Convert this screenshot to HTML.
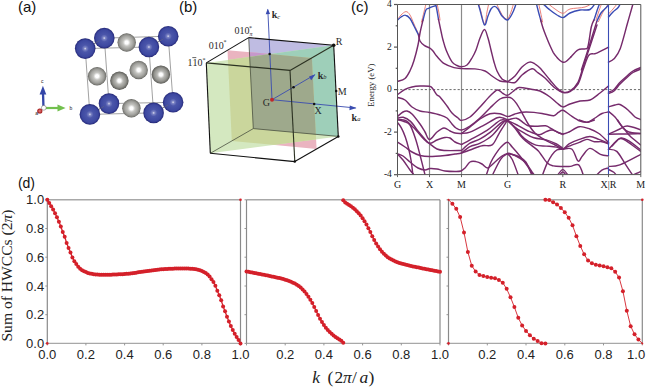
<!DOCTYPE html><html><head><meta charset="utf-8"><style>html,body{margin:0;padding:0;background:#fff;width:646px;height:388px;overflow:hidden}svg{display:block}</style></head><body>
<svg width="646" height="388" viewBox="0 0 646 388">
<defs>
<radialGradient id="gb" cx="0.5" cy="0.5" r="0.5" fx="0.5" fy="0.5"><stop offset="0" stop-color="#e2e2f0"/><stop offset="0.13" stop-color="#7c84c4"/><stop offset="0.35" stop-color="#4b56aa"/><stop offset="0.8" stop-color="#3d48a0"/><stop offset="0.93" stop-color="#2e3488"/><stop offset="1" stop-color="#20246f"/></radialGradient>
<radialGradient id="gg" cx="0.5" cy="0.5" r="0.5" fx="0.5" fy="0.5"><stop offset="0" stop-color="#ffffff"/><stop offset="0.17" stop-color="#fefefe"/><stop offset="0.4" stop-color="#c4c4c0"/><stop offset="0.72" stop-color="#a2a29e"/><stop offset="0.9" stop-color="#84847f"/><stop offset="1" stop-color="#5c5c58"/></radialGradient><radialGradient id="gg2" cx="0.5" cy="0.5" r="0.5" fx="0.5" fy="0.5"><stop offset="0" stop-color="#ffffff"/><stop offset="0.17" stop-color="#fefefe"/><stop offset="0.4" stop-color="#b8b8b4"/><stop offset="0.72" stop-color="#94948f"/><stop offset="0.9" stop-color="#70706b"/><stop offset="1" stop-color="#4c4c48"/></radialGradient>
<radialGradient id="gr" cx="0.5" cy="0.5" r="0.5"><stop offset="0" stop-color="#f08080"/><stop offset="1" stop-color="#9a1010"/></radialGradient>
</defs>
<g font-family='"Liberation Sans", sans-serif' font-size="15" fill="#111">
<text x="18.0" y="11.5">(a)</text>
<text x="178.9" y="11.5">(b)</text>
<text x="351.0" y="11.5">(c)</text>
<text x="17.9" y="187.6" font-size="14">(d)</text>
</g>
<g stroke="#8a8a8a" stroke-width="0.8" fill="none">
<line x1="85.2" y1="48.6" x2="104.3" y2="38.1"/>
<line x1="104.3" y1="38.1" x2="168.2" y2="36.2"/>
<line x1="168.2" y1="36.2" x2="148.9" y2="47.0"/>
<line x1="148.9" y1="47.0" x2="85.2" y2="48.6"/>
<line x1="89.9" y1="114.4" x2="109.0" y2="103.6"/>
<line x1="109.0" y1="103.6" x2="173.1" y2="102.3"/>
<line x1="173.1" y1="102.3" x2="153.6" y2="112.9"/>
<line x1="153.6" y1="112.9" x2="89.9" y2="114.4"/>
<line x1="85.2" y1="48.6" x2="89.9" y2="114.4"/>
<line x1="104.3" y1="38.1" x2="109.0" y2="103.6"/>
<line x1="148.9" y1="47.0" x2="153.6" y2="112.9"/>
<line x1="168.2" y1="36.2" x2="173.1" y2="102.3"/>
</g>
<circle cx="168.2" cy="36.2" r="10.3" fill="url(#gb)"/>
<circle cx="104.3" cy="38.1" r="10.3" fill="url(#gb)"/>
<circle cx="173.1" cy="102.3" r="10.3" fill="url(#gb)"/>
<circle cx="109.0" cy="103.6" r="10.3" fill="url(#gb)"/>
<circle cx="138.7" cy="70.0" r="9.2" fill="url(#gg)"/>
<circle cx="126.7" cy="42.5" r="9.2" fill="url(#gg)"/>
<circle cx="97.1" cy="76.2" r="9.2" fill="url(#gg)"/>
<circle cx="160.9" cy="74.6" r="9.2" fill="url(#gg2)"/>
<circle cx="131.4" cy="108.3" r="9.2" fill="url(#gg)"/>
<circle cx="119.4" cy="80.7" r="9.2" fill="url(#gg2)"/>
<g stroke="#6a6a7a" stroke-width="0.7" fill="none" opacity="0.8">
<line x1="85.2" y1="48.6" x2="99.5" y2="40.7"/>
<line x1="148.9" y1="47.0" x2="163.4" y2="38.9"/>
<line x1="89.9" y1="114.4" x2="104.2" y2="106.3"/>
<line x1="153.6" y1="112.9" x2="168.2" y2="104.9"/>
</g>
<circle cx="85.2" cy="48.6" r="10.3" fill="url(#gb)"/>
<circle cx="148.9" cy="47.0" r="10.3" fill="url(#gb)"/>
<circle cx="89.9" cy="114.4" r="10.3" fill="url(#gb)"/>
<circle cx="153.6" cy="112.9" r="10.3" fill="url(#gb)"/>
<line x1="43.5" y1="108" x2="43.0" y2="93" stroke="#3446a8" stroke-width="2.3"/>
<polygon points="42.9,85.8 39.6,94.5 46.3,94.5" fill="#3446a8"/>
<line x1="43.5" y1="108" x2="58" y2="108" stroke="#72c04e" stroke-width="2.2"/>
<polygon points="65.6,108 57.5,104.6 57.5,111.4" fill="#72c04e"/>
<circle cx="43.8" cy="107.8" r="2.4" fill="#fff" stroke="#777" stroke-width="0.6"/>
<circle cx="39.8" cy="111.0" r="2.6" fill="url(#gr)"/>
<g font-family='"Liberation Sans", sans-serif' font-size="5" fill="#222"><text x="41" y="83">c</text><text x="69.5" y="109.5">b</text><text x="35.2" y="115">a</text></g>
<clipPath id="cpu"><polygon points="248.7,37.6 333.7,45.3 338.3,136.4 253.3,128.6"/></clipPath>
<clipPath id="cpi"><polygon points="227.5,50.2 311.9,57.9 316.6,149.0 231.8,140.9"/></clipPath>
<clipPath id="cgr"><polygon points="206.3,62.9 333.7,45.3 338.3,136.4 210.3,153.3"/></clipPath>
<polygon points="248.7,37.6 333.7,45.3 338.3,136.4 253.3,128.6" fill="#bfbce2"/>
<polygon points="227.5,50.2 311.9,57.9 316.6,149.0 231.8,140.9" fill="#eab4c0"/>
<polygon points="206.3,62.9 333.7,45.3 338.3,136.4 210.3,153.3" fill="#d4e8c0"/>
<g clip-path="url(#cpu)"><polygon points="227.5,50.2 311.9,57.9 316.6,149.0 231.8,140.9" fill="#c698cb"/><polygon points="206.3,62.9 333.7,45.3 338.3,136.4 210.3,153.3" fill="#9ecfb9"/></g>
<g clip-path="url(#cpi)"><polygon points="206.3,62.9 333.7,45.3 338.3,136.4 210.3,153.3" fill="#cad69c"/></g>
<g clip-path="url(#cpu)"><g clip-path="url(#cpi)"><polygon points="206.3,62.9 333.7,45.3 338.3,136.4 210.3,153.3" fill="#9ea98c"/></g></g>
<line x1="248.7" y1="37.6" x2="253.3" y2="128.6" stroke="#4a5040" stroke-width="0.8"/>
<line x1="253.3" y1="128.6" x2="210.3" y2="153.3" stroke="#4a5040" stroke-width="0.8"/>
<line x1="253.3" y1="128.6" x2="338.3" y2="136.4" stroke="#4a5040" stroke-width="0.8"/>
<line x1="272.0" y1="99.7" x2="355.7" y2="108.0" stroke="#3a4cb0" stroke-width="0.9"/>
<polygon points="356.5,108.1 349.8,105.4 349.4,110.2" fill="#3a4cb0"/>
<line x1="272.0" y1="99.7" x2="314.7" y2="74.8" stroke="#3a4cb0" stroke-width="0.9"/>
<polygon points="315.5,74.3 309.0,76.4 311.2,80.2" fill="#3a4cb0"/>
<line x1="272.0" y1="99.7" x2="267.8" y2="9.4" stroke="#3a4cb0" stroke-width="0.9"/>
<polygon points="267.7,8.8 265.7,14.2 270.1,14.0" fill="#3a4cb0"/>
<line x1="294.8" y1="161.6" x2="210.3" y2="153.3" stroke="#111" stroke-width="1.1"/>
<line x1="210.3" y1="153.3" x2="206.3" y2="62.9" stroke="#111" stroke-width="1.1"/>
<line x1="206.3" y1="62.9" x2="248.7" y2="37.6" stroke="#111" stroke-width="1.1"/>
<line x1="248.7" y1="37.6" x2="333.7" y2="45.3" stroke="#111" stroke-width="1.1"/>
<line x1="333.7" y1="45.3" x2="338.3" y2="136.4" stroke="#111" stroke-width="1.1"/>
<line x1="338.3" y1="136.4" x2="294.8" y2="161.6" stroke="#111" stroke-width="1.1"/>
<line x1="206.3" y1="62.9" x2="290.0" y2="70.4" stroke="#2c3222" stroke-width="1.1"/>
<line x1="290.0" y1="70.4" x2="294.8" y2="161.6" stroke="#2c3222" stroke-width="1.1"/>
<line x1="333.7" y1="45.3" x2="290.0" y2="70.4" stroke="#2c3222" stroke-width="1.1"/>
<circle cx="269.6" cy="54.1" r="1.25" fill="#111"/>
<circle cx="293.5" cy="87.2" r="1.25" fill="#111"/>
<circle cx="314.2" cy="103.9" r="1.25" fill="#111"/>
<circle cx="336.2" cy="91.0" r="1.25" fill="#111"/>
<circle cx="338.3" cy="136.4" r="1.25" fill="#111"/>
<circle cx="294.8" cy="161.6" r="1.25" fill="#111"/>
<circle cx="333.7" cy="45.3" r="1.8" fill="#111"/>
<circle cx="272" cy="99.7" r="2.0" fill="#c0282a"/>
<g font-family='"Liberation Serif", serif' font-size="10" fill="#2a2a2a">
<text x="262.8" y="105.6">G</text>
<text x="314.6" y="114.2">X</text>
<text x="337.8" y="94.6">M</text>
<text x="335.8" y="45.0">R</text>
<text x="234.4" y="34.2">010</text><text x="249" y="29.5" font-size="6">*</text><text x="249.5" y="35.6" font-size="6" font-style="italic">π</text>
<text x="208.8" y="48.6">010</text><text x="223.5" y="44" font-size="6">*</text>
<text x="187.4" y="66.3">1</text><text x="192.4" y="66.3">1</text><text x="197.4" y="66.3">0</text><text x="202.5" y="61.5" font-size="6">*</text>
<line x1="192.3" y1="57.6" x2="196.3" y2="57.6" stroke="#222" stroke-width="0.7"/>
<text x="271.8" y="18" font-weight="bold">k</text><text x="277.2" y="18.6" font-size="6.5" font-style="italic">c</text>
<text x="317.8" y="78.5" font-weight="bold">k</text><text x="323.2" y="79.2" font-size="6.5" font-style="italic">b</text>
<text x="351.6" y="120.5" font-weight="bold">k</text><text x="357.2" y="121.2" font-size="6.5" font-style="italic">a</text>
</g>
<clipPath id="cband"><rect x="397.5" y="4.5" width="243.3" height="170.1"/></clipPath>
<line x1="429.5" y1="4.5" x2="429.5" y2="174.6" stroke="#8a8a8a" stroke-width="1.2"/>
<line x1="461.5" y1="4.5" x2="461.5" y2="174.6" stroke="#8a8a8a" stroke-width="1.2"/>
<line x1="507.5" y1="4.5" x2="507.5" y2="174.6" stroke="#8a8a8a" stroke-width="1.2"/>
<line x1="562.8" y1="4.5" x2="562.8" y2="174.6" stroke="#8a8a8a" stroke-width="1.2"/>
<line x1="397.5" y1="89.6" x2="640.8" y2="89.6" stroke="#6a6a6a" stroke-width="1.0" stroke-dasharray="2.2,1.9" stroke-dashoffset="1.4"/>
<g clip-path="url(#cband)" fill="none" stroke-linecap="round" stroke-linejoin="round">
<path d="M397.5 19.5 C398.1 18.8 399.6 16.3 401.0 15.0 C402.4 13.7 404.5 11.6 406.0 11.6 C407.5 11.6 408.7 12.9 410.0 15.0 C411.3 17.1 412.6 20.8 414.0 24.0 C415.4 27.2 417.8 32.3 418.5 34.0" stroke="#e8706a" stroke-width="0.9"/>
<path d="M421.5 22.0 C421.9 20.3 423.2 15.3 424.0 12.0 C424.8 8.7 426.1 3.7 426.5 2.0" stroke="#e8706a" stroke-width="0.9"/>
<path d="M477.5 0.0 C478.0 1.7 479.3 6.0 480.5 10.0 C481.7 14.0 483.4 23.7 484.5 24.0 C485.6 24.3 486.2 15.7 487.0 12.0 C487.8 8.3 488.7 3.7 489.0 2.0" stroke="#e8706a" stroke-width="0.9"/>
<path d="M496.0 2.0 C496.5 3.2 497.8 6.7 499.0 9.0 C500.2 11.3 501.6 14.3 503.0 16.0 C504.4 17.7 506.2 19.7 507.5 19.0 C508.8 18.3 509.9 14.8 511.0 12.0 C512.1 9.2 513.5 3.7 514.0 2.0" stroke="#e8706a" stroke-width="0.9"/>
<path d="M538.3 2.0 C538.7 3.7 539.8 8.7 540.5 12.0 C541.2 15.3 542.2 20.3 542.6 22.0" stroke="#e8706a" stroke-width="0.9"/>
<path d="M546.0 2.0 C547.5 3.2 552.2 7.1 555.0 9.0 C557.8 10.9 560.5 13.3 563.0 13.3 C565.5 13.3 566.3 10.1 570.0 9.0 C573.7 8.0 581.0 8.2 585.0 7.0 C589.0 5.8 592.5 2.8 594.0 2.0" stroke="#e8706a" stroke-width="0.9"/>
<path d="M598.5 21.6 C599.2 20.0 601.6 14.6 603.0 12.0 C604.4 9.4 606.1 7.5 607.0 6.0 C607.9 4.5 608.2 3.5 608.5 3.0" stroke="#e8706a" stroke-width="0.9"/>
<path d="M596.0 20.0 C596.5 18.5 598.1 13.5 599.0 10.8 C599.9 8.1 601.1 5.1 601.5 4.0" stroke="#e8706a" stroke-width="0.9"/>
<path d="M436.8 2.0 C437.2 4.2 438.8 12.0 439.3 15.0 C439.8 18.0 439.9 19.2 440.0 20.0" stroke="#e8706a" stroke-width="0.9"/>
<path d="M608.5 14.0 C609.2 13.2 611.6 10.7 613.0 9.0 C614.4 7.3 616.0 5.5 617.0 4.0 C618.0 2.5 618.7 0.7 619.0 0.0" stroke="#e8706a" stroke-width="0.9"/>
<path d="M397.5 20.2 C398.1 19.7 399.7 17.8 401.0 17.0 C402.3 16.2 404.0 14.9 405.5 15.2 C407.0 15.4 408.6 16.7 410.0 18.5 C411.4 20.3 412.6 23.2 414.0 26.0 C415.4 28.8 417.8 33.5 418.5 35.0" stroke="#3a4cb4" stroke-width="1.4"/>
<path d="M423.0 20.0 C423.5 18.3 425.0 11.9 425.9 10.0 C426.8 8.1 427.5 8.9 428.2 8.5 C428.9 8.1 428.9 8.2 430.0 7.7 C431.1 7.2 434.0 6.2 435.0 5.8 C436.0 5.4 435.4 3.2 436.0 5.5 C436.6 7.8 438.1 17.0 438.5 19.3" stroke="#3a4cb4" stroke-width="1.4"/>
<path d="M477.0 0.0 C477.5 1.7 478.8 5.8 480.0 10.0 C481.2 14.2 483.2 24.0 484.5 25.0 C485.8 26.0 486.9 18.7 488.0 16.0 C489.1 13.3 489.9 10.6 491.0 9.0 C492.1 7.4 493.3 6.4 494.5 6.4 C495.7 6.4 496.8 7.4 498.0 9.0 C499.2 10.6 500.4 14.2 502.0 16.0 C503.6 17.8 505.8 20.3 507.5 20.0 C509.2 19.7 510.8 16.2 512.0 14.0 C513.2 11.8 514.2 9.3 515.0 7.0 C515.8 4.7 516.7 1.2 517.0 0.0" stroke="#3a4cb4" stroke-width="1.4"/>
<path d="M535.5 0.0 C536.0 2.0 537.6 8.5 538.5 12.0 C539.4 15.5 540.6 19.5 541.0 21.0" stroke="#3a4cb4" stroke-width="1.4"/>
<path d="M541.0 2.0 C542.5 3.3 547.3 7.8 550.0 10.0 C552.7 12.2 554.8 13.7 557.0 15.0 C559.2 16.3 560.8 17.9 563.0 17.6 C565.2 17.3 567.2 14.3 570.0 13.0 C572.8 11.7 576.7 10.6 580.0 10.0 C583.3 9.4 587.3 10.8 590.0 9.5 C592.7 8.2 595.0 3.2 596.0 2.0" stroke="#3a4cb4" stroke-width="1.4"/>
<path d="M596.7 21.6 C597.4 20.2 599.5 15.2 601.0 13.0 C602.5 10.8 604.5 9.4 605.8 8.1 C607.0 6.8 608.0 5.5 608.5 5.0" stroke="#3a4cb4" stroke-width="1.4"/>
<path d="M594.0 20.0 C594.5 18.5 596.1 13.5 597.0 10.8 C597.9 8.1 599.1 5.1 599.5 4.0" stroke="#3a4cb4" stroke-width="1.4"/>
<path d="M608.5 17.0 C609.2 16.2 611.4 13.6 613.0 12.0 C614.6 10.4 617.1 8.9 618.4 7.2 C619.7 5.5 620.6 2.9 621.0 2.0" stroke="#3a4cb4" stroke-width="1.4"/>
<path d="M418.5 35.0 C418.8 36.0 419.0 39.2 420.0 41.0 C421.0 42.8 423.0 44.6 424.6 45.7 C426.2 46.9 428.1 47.0 429.5 47.9 C430.9 48.8 431.8 49.6 433.0 51.0 C434.2 52.4 434.7 53.9 436.6 56.0 C438.5 58.1 441.4 61.8 444.3 63.7 C447.2 65.6 451.1 66.8 454.0 67.6 C456.9 68.4 458.0 68.4 461.5 68.6 C465.0 68.8 471.1 68.5 475.0 68.9 C478.9 69.3 482.2 69.8 485.0 71.0 C487.8 72.2 489.5 74.3 492.0 76.0 C494.5 77.7 497.4 80.0 500.0 81.0 C502.6 82.0 506.2 81.6 507.5 81.7" stroke="#762b6c" stroke-width="1.45"/>
<path d="M397.5 81.5 C398.8 81.0 402.9 80.3 405.0 78.5 C407.1 76.7 408.5 73.8 410.0 70.8 C411.5 67.8 412.7 64.8 414.0 60.5 C415.3 56.2 417.0 49.6 418.0 45.0 C419.0 40.4 419.2 37.2 420.0 33.0 C420.8 28.8 422.5 22.2 423.0 20.0" stroke="#762b6c" stroke-width="1.45"/>
<path d="M438.5 19.3 C439.0 21.6 440.6 29.6 441.4 33.0 C442.1 36.5 442.2 37.1 443.0 40.0 C443.8 42.9 444.7 46.6 446.2 50.2 C447.7 53.8 450.2 59.2 452.0 61.8 C453.8 64.3 455.4 64.7 457.0 65.5 C458.6 66.3 459.8 66.9 461.5 66.8 C463.2 66.7 465.2 66.5 467.0 65.0 C468.8 63.5 470.5 60.5 472.0 58.0 C473.5 55.5 474.7 53.3 476.0 50.0 C477.3 46.7 478.6 41.4 480.0 38.0 C481.4 34.6 483.2 29.6 484.5 29.6 C485.8 29.6 486.9 34.6 488.0 38.0 C489.1 41.4 490.0 46.0 491.0 50.0 C492.0 54.0 493.0 58.5 494.0 62.0 C495.0 65.5 495.7 68.2 497.0 71.0 C498.3 73.8 500.2 77.2 502.0 79.0 C503.8 80.8 506.6 81.1 507.5 81.5" stroke="#762b6c" stroke-width="1.45"/>
<path d="M507.5 81.7 C508.8 80.8 512.6 78.5 515.0 76.0 C517.4 73.5 519.6 69.3 522.0 67.0 C524.4 64.7 527.4 62.6 529.6 62.1 C531.8 61.6 533.3 63.0 535.0 64.0 C536.7 65.0 537.5 65.3 540.0 68.0 C542.5 70.7 547.2 76.7 550.0 80.0 C552.8 83.3 554.8 86.0 557.0 88.0 C559.2 90.0 560.8 91.6 563.0 92.1 C565.2 92.6 567.5 92.6 570.0 91.0 C572.5 89.4 575.8 86.5 578.0 82.3 C580.2 78.1 581.9 70.5 583.4 66.0 C584.9 61.5 585.8 58.8 587.0 55.2 C588.2 51.6 589.4 48.0 590.6 44.4 C591.8 40.8 593.1 36.8 594.2 33.6 C595.3 30.4 596.5 26.4 597.0 25.0" stroke="#762b6c" stroke-width="1.45"/>
<path d="M507.5 81.7 C508.8 81.8 512.6 83.6 515.0 82.5 C517.4 81.4 519.2 77.3 522.0 75.0 C524.8 72.7 529.5 69.3 532.0 68.8 C534.5 68.3 534.8 70.5 537.0 72.0 C539.2 73.5 542.0 75.3 545.0 78.0 C548.0 80.7 552.0 85.6 555.0 88.0 C558.0 90.4 560.5 91.9 563.0 92.5 C565.5 93.1 567.5 92.9 570.0 91.5 C572.5 90.1 575.8 87.6 578.0 84.0 C580.2 80.4 581.2 74.8 583.0 70.0 C584.8 65.2 586.6 58.0 588.8 55.2 C591.0 52.4 592.7 54.8 596.0 53.4 C599.3 52.0 606.4 48.1 608.5 47.1" stroke="#762b6c" stroke-width="1.45"/>
<path d="M608.5 62.2 C609.4 61.6 612.0 61.0 614.0 58.8 C616.0 56.5 618.0 54.6 620.2 48.7 C622.4 42.8 625.3 30.9 627.4 23.5 C629.5 16.1 631.9 7.7 632.8 4.5" stroke="#762b6c" stroke-width="1.45"/>
<path d="M608.5 92.2 C609.4 91.8 612.1 91.2 614.0 89.5 C615.9 87.8 617.8 84.5 620.0 82.3 C622.2 80.0 624.8 77.9 627.0 76.0 C629.2 74.1 630.7 72.4 633.0 71.0 C635.3 69.6 639.5 68.1 640.8 67.5" stroke="#762b6c" stroke-width="1.45"/>
<path d="M608.5 93.5 C609.4 93.1 612.1 92.6 614.0 91.0 C615.9 89.4 617.8 86.2 620.0 84.0 C622.2 81.8 624.8 79.4 627.0 77.5 C629.2 75.6 630.7 73.9 633.0 72.5 C635.3 71.1 639.5 69.6 640.8 69.0" stroke="#762b6c" stroke-width="1.45"/>
<path d="M540.6 19.8 C541.0 21.2 542.1 25.3 543.0 28.0 C543.9 30.7 544.9 33.2 546.0 36.0 C547.1 38.8 548.3 41.8 549.5 44.5 C550.7 47.2 552.0 50.1 553.2 52.3 C554.5 54.5 555.9 56.1 557.0 57.5 C558.1 58.9 559.0 59.7 560.0 60.5 C561.0 61.3 562.0 62.0 563.0 62.2 C564.0 62.4 564.7 62.4 566.0 61.5 C567.3 60.6 570.0 57.8 570.8 57.0" stroke="#762b6c" stroke-width="1.45"/>
<path d="M581.4 70.0 C582.8 65.8 587.0 53.1 589.5 45.0 C592.0 36.9 595.5 25.5 596.7 21.6" stroke="#762b6c" stroke-width="1.45"/>
<path d="M570.8 57.0 C572.0 55.8 575.6 51.1 578.0 49.8 C580.4 48.4 583.5 49.5 585.2 48.9 C586.9 48.3 587.0 49.9 588.0 46.2 C589.0 42.6 590.3 31.4 591.3 27.0 C592.3 22.6 593.5 21.2 594.0 20.0" stroke="#762b6c" stroke-width="1.45"/>
<path d="M397.5 94.6 C398.8 93.7 402.6 90.7 405.0 89.4 C407.4 88.1 409.5 87.6 412.0 87.0 C414.5 86.4 417.1 86.1 420.0 86.0 C422.9 85.9 427.3 85.8 429.5 86.3 C431.7 86.8 431.8 87.5 433.0 89.0 C434.2 90.5 435.8 93.7 437.0 95.0 C438.2 96.3 438.3 95.2 440.0 97.0 C441.7 98.8 445.0 103.3 447.0 106.0 C449.0 108.7 450.2 111.0 452.0 113.0 C453.8 115.0 456.4 116.8 458.0 118.0 C459.6 119.2 459.5 120.6 461.5 120.4 C463.5 120.2 466.9 119.2 470.0 117.0 C473.1 114.8 476.7 110.5 480.0 107.0 C483.3 103.5 487.1 98.8 490.0 96.0 C492.9 93.2 495.2 90.4 497.4 90.0 C499.6 89.6 501.3 92.6 503.0 93.5 C504.7 94.4 505.8 95.6 507.5 95.3 C509.2 95.0 511.1 92.8 513.0 91.5 C514.9 90.2 516.2 87.9 519.0 87.5 C521.8 87.1 526.5 88.4 530.0 89.0 C533.5 89.6 536.7 89.7 540.0 91.0 C543.3 92.3 547.2 95.0 550.0 97.0 C552.8 99.0 554.8 101.3 557.0 103.0 C559.2 104.7 560.8 106.7 563.0 106.9 C565.2 107.1 567.2 105.0 570.0 104.0 C572.8 103.0 576.7 101.7 580.0 101.0 C583.3 100.3 586.7 101.3 590.0 100.0 C593.3 98.7 596.9 95.3 600.0 93.0 C603.1 90.7 607.1 87.2 608.5 86.0" stroke="#762b6c" stroke-width="1.45"/>
<path d="M397.5 97.5 C398.8 97.9 402.6 98.4 405.0 100.0 C407.4 101.6 409.5 105.2 412.0 107.0 C414.5 108.8 417.1 110.1 420.0 111.0 C422.9 111.9 426.2 111.8 429.5 112.5 C432.8 113.2 437.1 114.1 440.0 115.0 C442.9 115.9 445.0 116.5 447.0 118.0 C449.0 119.5 450.5 122.3 452.0 124.0 C453.5 125.7 454.4 127.0 456.0 128.0 C457.6 129.0 459.2 130.3 461.5 130.0 C463.8 129.7 466.9 128.0 470.0 126.0 C473.1 124.0 476.7 121.0 480.0 118.0 C483.3 115.0 486.7 111.2 490.0 108.0 C493.3 104.8 497.1 100.8 500.0 99.0 C502.9 97.2 505.5 97.4 507.5 97.3 C509.5 97.2 510.5 97.4 512.0 98.5 C513.5 99.6 514.9 101.2 516.6 103.7 C518.3 106.2 520.5 110.2 522.4 113.6 C524.3 117.0 526.1 120.7 528.2 124.0 C530.3 127.3 532.5 130.7 535.2 133.3 C537.9 135.9 541.2 137.8 544.5 139.7 C547.8 141.6 551.9 143.4 555.0 145.0 C558.1 146.6 561.7 148.5 563.0 149.2" stroke="#762b6c" stroke-width="1.45"/>
<path d="M461.5 133.5 C462.9 132.4 466.9 129.4 470.0 127.0 C473.1 124.6 476.7 121.2 480.0 119.0 C483.3 116.8 486.7 114.6 490.0 113.7 C493.3 112.8 497.1 113.2 500.0 113.7 C502.9 114.2 505.1 116.4 507.5 116.5 C509.9 116.6 511.8 114.9 514.3 114.2 C516.8 113.5 519.1 112.5 522.4 112.2 C525.7 111.9 530.1 112.1 534.0 112.4 C537.9 112.7 542.3 113.7 545.6 114.2 C548.9 114.8 551.7 116.0 553.8 115.7 C555.9 115.4 556.9 113.3 558.4 112.4 C559.9 111.5 561.1 109.9 563.0 110.3 C564.9 110.7 567.2 113.2 570.0 115.0 C572.8 116.8 577.0 119.8 580.0 121.0 C583.0 122.2 585.5 122.7 588.0 122.2 C590.5 121.7 592.7 119.5 595.0 118.0 C597.3 116.5 599.8 114.5 602.0 113.5 C604.2 112.5 607.4 112.2 608.5 112.0" stroke="#762b6c" stroke-width="1.45"/>
<path d="M461.5 133.5 C462.9 133.3 466.3 133.5 470.0 132.1 C473.7 130.7 479.1 127.7 483.6 125.3 C488.1 122.9 494.0 118.9 497.2 117.7 C500.4 116.5 501.3 117.7 503.0 118.0 C504.7 118.3 505.2 119.6 507.5 119.6 C509.8 119.6 513.9 117.7 516.6 118.2 C519.3 118.8 521.7 121.6 523.6 122.9 C525.5 124.2 526.1 125.2 528.2 125.8 C530.3 126.4 533.4 126.3 536.3 126.3 C539.2 126.3 543.1 125.4 545.6 125.8 C548.1 126.2 549.5 127.6 551.4 128.7 C553.3 129.8 555.3 131.2 557.2 132.1 C559.1 133.0 561.0 133.9 563.0 133.9 C565.0 133.9 566.3 133.2 569.0 132.0 C571.7 130.8 575.9 127.2 579.4 126.7 C582.9 126.2 586.6 127.9 589.9 129.0 C593.1 130.1 595.8 131.3 598.9 133.5 C602.0 135.7 606.9 140.9 608.5 142.4" stroke="#762b6c" stroke-width="1.45"/>
<path d="M507.5 120.5 C509.1 121.2 513.6 123.2 517.0 125.0 C520.4 126.8 524.3 129.4 528.0 131.0 C531.7 132.6 536.0 134.6 539.0 134.7 C542.0 134.8 544.0 132.4 546.2 131.6 C548.4 130.8 550.3 129.9 552.4 130.1 C554.5 130.3 556.8 132.0 558.6 132.7 C560.4 133.4 562.3 134.2 563.0 134.5" stroke="#762b6c" stroke-width="1.45"/>
<path d="M507.5 120.3 C508.8 121.5 512.6 125.4 515.3 127.5 C518.0 129.6 520.5 131.0 523.6 132.7 C526.7 134.4 530.1 136.6 533.9 137.8 C537.7 139.0 542.4 138.9 546.2 139.9 C550.0 140.9 553.7 142.6 556.5 144.0 C559.3 145.4 561.9 147.8 563.0 148.5" stroke="#762b6c" stroke-width="1.45"/>
<path d="M461.5 150.5 C462.9 149.3 466.9 145.1 470.0 143.2 C473.1 141.3 476.8 140.8 480.2 138.9 C483.6 137.1 486.7 134.9 490.4 132.1 C494.1 129.3 499.4 123.8 502.3 121.9 C505.2 120.1 506.6 121.2 507.5 121.0" stroke="#762b6c" stroke-width="1.45"/>
<path d="M461.5 144.5 C462.9 143.7 465.8 142.2 470.0 139.8 C474.2 137.5 481.9 133.7 487.0 130.4 C492.1 127.1 497.2 121.8 500.6 120.2 C504.0 118.6 506.4 120.9 507.5 121.0" stroke="#762b6c" stroke-width="1.45"/>
<path d="M461.5 153.0 C462.9 151.9 466.9 148.2 470.0 146.6 C473.1 145.0 476.5 145.0 480.2 143.2 C483.9 141.3 488.1 139.1 492.1 135.5 C496.1 131.9 501.4 124.3 504.0 121.9 C506.6 119.5 506.9 121.2 507.5 121.0" stroke="#762b6c" stroke-width="1.45"/>
<path d="M397.5 116.4 C398.4 115.7 401.4 112.9 403.0 112.0 C404.6 111.1 405.5 110.7 407.0 111.0 C408.5 111.3 409.8 111.8 412.0 114.0 C414.2 116.2 417.8 121.0 420.0 124.0 C422.2 127.0 423.4 129.4 425.0 132.0 C426.6 134.6 427.5 139.5 429.5 139.5 C431.5 139.5 434.6 133.9 437.0 132.0 C439.4 130.1 441.8 128.2 444.0 128.0 C446.2 127.8 448.2 130.2 450.0 131.0 C451.8 131.8 453.1 132.6 455.0 133.0 C456.9 133.4 460.4 133.4 461.5 133.5" stroke="#762b6c" stroke-width="1.45"/>
<path d="M397.5 118.3 C398.4 118.1 401.0 116.8 403.2 117.3 C405.4 117.8 408.1 119.2 410.5 121.4 C412.9 123.6 415.5 127.9 417.7 130.7 C419.9 133.4 421.9 135.8 423.9 137.9 C425.9 140.0 427.3 143.0 429.5 143.3 C431.7 143.7 434.4 141.0 437.0 140.0 C439.6 139.0 442.8 137.8 445.0 137.5 C447.2 137.2 448.3 137.2 450.0 138.0 C451.7 138.8 453.1 140.9 455.0 142.0 C456.9 143.1 460.4 144.1 461.5 144.5" stroke="#762b6c" stroke-width="1.45"/>
<path d="M397.5 119.9 C398.8 120.0 402.6 119.1 405.3 120.4 C408.0 121.7 411.0 125.0 413.6 127.6 C416.2 130.2 418.8 133.6 420.8 135.8 C422.9 138.0 424.4 139.7 425.9 141.0 C427.3 142.3 427.6 142.3 429.5 143.6 C431.4 144.9 434.4 147.8 437.0 149.0 C439.6 150.2 440.9 150.2 445.0 150.5 C449.1 150.8 458.8 150.5 461.5 150.5" stroke="#762b6c" stroke-width="1.45"/>
<path d="M397.5 122.4 C398.1 123.3 399.9 125.2 401.2 127.6 C402.5 130.0 404.1 133.5 405.3 136.9 C406.5 140.3 407.6 144.2 408.5 148.0 C409.4 151.8 410.2 155.3 411.0 160.0 C411.8 164.7 412.7 173.3 413.0 176.0" stroke="#762b6c" stroke-width="1.45"/>
<path d="M397.5 119.4 C398.6 119.8 401.9 120.6 404.0 121.5 C406.1 122.4 408.1 122.1 410.0 125.0 C411.9 127.9 413.8 133.7 415.5 138.7 C417.2 143.7 418.4 148.8 420.0 155.0 C421.6 161.2 424.4 172.5 425.3 176.0" stroke="#762b6c" stroke-width="1.45"/>
<path d="M397.5 142.2 C398.8 143.0 402.6 145.4 405.0 147.0 C407.4 148.6 409.5 150.6 412.0 152.0 C414.5 153.4 417.1 154.8 420.0 155.5 C422.9 156.2 425.3 156.5 429.5 156.5 C433.7 156.5 440.8 155.9 445.0 155.5 C449.2 155.1 452.2 154.4 455.0 154.0 C457.8 153.6 459.0 153.7 461.5 153.0 C464.0 152.3 466.6 151.2 470.0 150.0 C473.4 148.8 478.2 146.5 481.9 145.7 C485.6 144.8 489.3 146.9 492.1 144.9 C494.9 142.9 496.6 137.5 498.9 133.8 C501.2 130.1 504.3 124.9 505.7 122.8 C507.1 120.7 507.2 121.3 507.5 121.0" stroke="#762b6c" stroke-width="1.45"/>
<path d="M397.5 153.8 C398.4 154.2 400.9 154.6 403.0 156.0 C405.1 157.4 407.5 160.0 410.0 162.0 C412.5 164.0 415.5 166.7 418.0 168.0 C420.5 169.3 423.0 169.9 425.0 170.0 C427.0 170.1 428.0 168.7 430.0 168.5 C432.0 168.3 434.5 168.6 437.0 169.0 C439.5 169.4 442.0 170.6 445.0 171.0 C448.0 171.4 452.3 171.5 455.0 171.5 C457.7 171.5 459.3 171.6 461.0 171.0 C462.7 170.4 463.5 169.5 465.0 168.0 C466.5 166.5 468.2 163.1 470.0 162.0 C471.8 160.9 474.0 161.3 476.0 161.6 C478.0 161.9 480.1 162.9 482.0 164.0 C483.9 165.1 485.5 168.3 487.7 168.0 C489.9 167.7 492.6 164.0 495.0 162.0 C497.4 160.0 499.9 157.4 502.0 156.0 C504.1 154.6 505.3 153.9 507.5 153.8 C509.7 153.7 512.1 154.1 515.0 155.5 C517.9 156.9 522.2 159.2 525.0 162.0 C527.8 164.8 530.3 169.7 532.0 172.0 C533.7 174.3 534.5 175.3 535.0 176.0" stroke="#762b6c" stroke-width="1.45"/>
<path d="M397.5 154.0 C398.4 155.0 400.9 157.3 403.0 160.0 C405.1 162.7 408.0 167.3 410.0 170.0 C412.0 172.7 414.2 175.0 415.0 176.0" stroke="#762b6c" stroke-width="1.45"/>
<path d="M486.0 176.0 C486.8 173.7 489.4 165.6 491.0 162.0 C492.6 158.4 493.8 156.7 495.5 154.2 C497.2 151.7 499.0 149.0 501.0 147.0 C503.0 145.0 505.6 142.2 507.5 142.3 C509.4 142.4 510.3 145.0 512.4 147.3 C514.5 149.6 517.4 152.9 519.9 156.0 C522.4 159.1 525.0 162.6 527.3 165.9 C529.6 169.2 532.5 174.3 533.5 176.0" stroke="#762b6c" stroke-width="1.45"/>
<path d="M492.0 176.0 C493.4 173.2 498.0 163.1 500.6 159.3 C503.2 155.6 505.7 154.4 507.5 153.5 C509.3 152.6 509.1 153.5 511.2 154.1 C513.3 154.7 517.4 155.8 519.9 157.2 C522.4 158.5 524.0 159.1 526.0 162.2 C528.0 165.3 531.2 173.7 532.2 176.0" stroke="#762b6c" stroke-width="1.45"/>
<path d="M507.5 153.5 C508.3 154.5 510.5 155.9 512.4 159.7 C514.2 163.4 517.6 173.3 518.6 176.0" stroke="#762b6c" stroke-width="1.45"/>
<path d="M507.5 120.8 C509.0 122.1 514.0 126.1 516.3 128.6 C518.6 131.1 519.6 133.8 521.5 135.8 C523.4 137.9 525.3 139.4 527.7 140.9 C530.1 142.4 532.8 144.2 535.9 145.1 C539.0 146.0 542.8 145.8 546.2 146.1 C549.6 146.4 553.7 146.6 556.5 147.1 C559.3 147.6 560.9 149.7 563.0 149.2 C565.1 148.7 566.3 145.5 569.0 143.9 C571.7 142.3 575.9 140.6 579.4 139.4 C582.9 138.2 586.6 136.5 589.9 136.5 C593.1 136.5 595.8 138.3 598.9 139.4 C602.0 140.5 606.9 142.6 608.5 143.2" stroke="#762b6c" stroke-width="1.45"/>
<path d="M563.0 149.2 C564.0 148.7 566.3 147.3 569.0 146.2 C571.7 145.1 576.4 143.5 579.4 142.4 C582.4 141.3 584.4 139.5 586.9 139.4 C589.4 139.3 591.9 141.3 594.4 141.7 C596.9 142.1 599.5 141.3 601.9 141.7 C604.2 142.1 607.4 143.5 608.5 143.9" stroke="#762b6c" stroke-width="1.45"/>
<path d="M507.5 120.0 C508.8 121.4 513.1 126.0 515.3 128.6 C517.5 131.2 518.8 133.8 520.5 135.8 C522.2 137.9 523.7 139.3 525.6 140.9 C527.5 142.5 529.7 143.9 531.8 145.6 C533.9 147.3 535.8 148.1 538.4 151.0 C541.0 153.9 544.6 160.3 547.1 162.8 C549.6 165.3 550.6 165.3 553.3 165.9 C555.9 166.5 560.1 166.4 563.0 166.5 C565.9 166.6 567.9 166.7 570.5 166.4 C573.1 166.1 576.5 163.1 578.7 164.9 C581.0 166.7 583.1 175.0 584.0 177.0" stroke="#762b6c" stroke-width="1.45"/>
<path d="M542.1 176.0 C542.9 173.9 545.5 166.9 547.1 163.4 C548.8 159.9 550.4 157.1 552.0 154.8 C553.6 152.5 555.2 150.7 557.0 149.8 C558.8 148.9 560.5 149.3 563.0 149.2 C565.5 149.1 569.5 147.2 572.0 149.2 C574.5 151.2 576.3 159.9 578.0 161.0 C579.7 162.1 580.4 158.0 582.4 155.9 C584.4 153.8 586.9 148.7 589.9 148.4 C592.9 148.2 597.3 153.2 600.4 154.4 C603.5 155.7 607.1 155.7 608.5 155.9" stroke="#762b6c" stroke-width="1.45"/>
<path d="M557.0 176.0 C558.0 174.9 560.9 169.6 562.8 169.6 C564.7 169.6 567.6 174.9 568.6 176.0" stroke="#762b6c" stroke-width="1.45"/>
<path d="M559.0 176.0 C559.6 175.3 561.5 172.0 562.8 172.0 C564.1 172.0 566.0 175.3 566.6 176.0" stroke="#762b6c" stroke-width="1.45"/>
<path d="M595.9 176.0 C596.9 175.0 599.8 171.4 601.9 170.1 C604.0 168.8 607.4 168.3 608.5 167.9" stroke="#762b6c" stroke-width="1.45"/>
<path d="M579.4 120.0 C580.6 120.4 584.4 122.2 586.9 122.2 C589.4 122.2 593.1 120.4 594.4 120.0" stroke="#762b6c" stroke-width="1.45"/>
<path d="M608.5 106.9 C609.6 106.6 613.1 105.4 615.0 105.0 C616.9 104.6 617.8 103.7 620.0 104.5 C622.2 105.3 625.5 107.9 628.0 110.0 C630.5 112.1 632.9 115.4 635.0 117.0 C637.1 118.6 639.8 119.1 640.8 119.5" stroke="#762b6c" stroke-width="1.45"/>
<path d="M608.5 111.4 C609.6 112.3 613.1 114.9 615.0 117.0 C616.9 119.1 618.3 121.8 620.0 124.0 C621.7 126.2 623.3 128.0 625.0 130.0 C626.7 132.0 627.4 133.5 630.0 136.0 C632.6 138.5 639.0 143.5 640.8 145.0" stroke="#762b6c" stroke-width="1.45"/>
<path d="M608.5 134.2 C610.4 133.3 616.7 130.4 619.8 129.0 C622.9 127.6 623.8 125.9 627.3 126.0 C630.8 126.1 638.5 129.1 640.8 129.7" stroke="#762b6c" stroke-width="1.45"/>
<path d="M608.5 134.2 C611.2 134.2 619.6 134.1 625.0 134.0 C630.4 133.9 638.2 133.6 640.8 133.5" stroke="#762b6c" stroke-width="1.45"/>
<path d="M617.6 120.0 C618.5 121.2 620.9 125.5 622.8 127.5 C624.7 129.5 625.8 131.0 628.8 132.0 C631.8 133.0 638.8 133.2 640.8 133.5" stroke="#762b6c" stroke-width="1.45"/>
<path d="M608.5 149.2 C609.9 147.8 614.7 142.8 616.8 140.9 C618.9 139.0 619.3 137.9 621.3 137.9 C623.3 137.9 625.5 138.9 628.8 140.9 C632.0 142.9 638.8 148.4 640.8 149.9" stroke="#762b6c" stroke-width="1.45"/>
<path d="M612.0 146.0 C613.0 144.9 616.2 140.7 618.0 139.5 C619.8 138.3 620.7 138.1 623.0 139.0 C625.3 139.9 629.0 142.9 632.0 145.0 C635.0 147.1 639.3 150.4 640.8 151.5" stroke="#762b6c" stroke-width="1.45"/>
<path d="M608.5 149.2 C609.9 149.6 613.9 148.8 616.8 151.4 C619.7 154.0 623.0 160.8 625.8 164.9 C628.5 169.0 632.0 174.2 633.3 176.0" stroke="#762b6c" stroke-width="1.45"/>
<path d="M608.5 166.4 C610.4 166.2 614.4 166.9 619.8 164.9 C625.2 162.9 637.3 156.2 640.8 154.4" stroke="#762b6c" stroke-width="1.45"/>
<path d="M608.5 169.4 C609.4 169.9 612.4 171.2 613.8 172.3 C615.2 173.4 616.3 175.4 616.8 176.0" stroke="#762b6c" stroke-width="1.45"/>
<path d="M630.3 176.0 C632.0 175.3 639.0 172.3 640.8 171.6" stroke="#762b6c" stroke-width="1.45"/>
</g>
<line x1="608.5" y1="4.5" x2="608.5" y2="174.6" stroke="#8c8c8c" stroke-width="1.0"/>
<line x1="608.5" y1="4.5" x2="608.5" y2="156.0" stroke="#3a4cb4" stroke-width="1.1"/>
<line x1="608.5" y1="167.0" x2="608.5" y2="174.6" stroke="#3a4cb4" stroke-width="1.1"/>
<polyline points="640.8,4.5 397.5,4.5 397.5,174.6 640.8,174.6 640.8,4.5" fill="none" stroke="#555" stroke-width="1.0"/>
<line x1="394.0" y1="4.5" x2="397.5" y2="4.5" stroke="#555" stroke-width="1.2"/>
<line x1="395.7" y1="25.8" x2="397.5" y2="25.8" stroke="#555" stroke-width="1.2"/>
<line x1="394.0" y1="47.1" x2="397.5" y2="47.1" stroke="#555" stroke-width="1.2"/>
<line x1="395.7" y1="68.3" x2="397.5" y2="68.3" stroke="#555" stroke-width="1.2"/>
<line x1="394.0" y1="89.6" x2="397.5" y2="89.6" stroke="#555" stroke-width="1.2"/>
<line x1="395.7" y1="110.9" x2="397.5" y2="110.9" stroke="#555" stroke-width="1.2"/>
<line x1="394.0" y1="132.1" x2="397.5" y2="132.1" stroke="#555" stroke-width="1.2"/>
<line x1="395.7" y1="153.4" x2="397.5" y2="153.4" stroke="#555" stroke-width="1.2"/>
<line x1="394.0" y1="174.7" x2="397.5" y2="174.7" stroke="#555" stroke-width="1.2"/>
<line x1="397.5" y1="174.6" x2="397.5" y2="177.1" stroke="#555" stroke-width="0.9"/>
<line x1="429.5" y1="174.6" x2="429.5" y2="177.1" stroke="#555" stroke-width="0.9"/>
<line x1="461.5" y1="174.6" x2="461.5" y2="177.1" stroke="#555" stroke-width="0.9"/>
<line x1="507.5" y1="174.6" x2="507.5" y2="177.1" stroke="#555" stroke-width="0.9"/>
<line x1="562.8" y1="174.6" x2="562.8" y2="177.1" stroke="#555" stroke-width="0.9"/>
<line x1="608.5" y1="174.6" x2="608.5" y2="177.1" stroke="#555" stroke-width="0.9"/>
<line x1="640.8" y1="174.6" x2="640.8" y2="177.1" stroke="#555" stroke-width="0.9"/>
<g font-family='"Liberation Serif", serif' font-size="9.6" fill="#222" text-anchor="end">
<text x="391.9" y="7.2">4</text>
<text x="391.9" y="49.8">2</text>
<text x="391.9" y="92.3">0</text>
<text x="391.9" y="134.8">-2</text>
<text x="391.9" y="177.4">-4</text>
</g>
<g font-family='"Liberation Serif", serif' font-size="10" fill="#222" text-anchor="middle">
<text x="397.5" y="188.2">G</text>
<text x="429.5" y="188.2">X</text>
<text x="461.5" y="188.2">M</text>
<text x="507.5" y="188.2">G</text>
<text x="562.8" y="188.2">R</text>
<text x="608.5" y="188.2">X|R</text>
<text x="640.8" y="188.2">M</text>
</g>
<text transform="translate(373.8,85.2) rotate(-90)" font-family='"Liberation Serif", serif' font-size="8.7" fill="#222" text-anchor="middle">Energy (eV)</text>
<line x1="47.3" y1="199.8" x2="240.5" y2="199.8" stroke="#a8a8a8" stroke-width="1.4"/>
<line x1="47.3" y1="343.4" x2="240.5" y2="343.4" stroke="#a8a8a8" stroke-width="1.4"/>
<line x1="47.3" y1="199.8" x2="47.3" y2="343.4" stroke="#8a8a8a" stroke-width="1.2"/>
<line x1="240.5" y1="199.8" x2="240.5" y2="343.4" stroke="#8a8a8a" stroke-width="1.2"/>
<line x1="45.3" y1="343.4" x2="47.3" y2="343.4" stroke="#8a8a8a" stroke-width="0.9"/>
<line x1="47.3" y1="343.4" x2="47.3" y2="345.4" stroke="#8a8a8a" stroke-width="0.9"/>
<line x1="45.3" y1="314.7" x2="47.3" y2="314.7" stroke="#8a8a8a" stroke-width="0.9"/>
<line x1="85.9" y1="343.4" x2="85.9" y2="345.4" stroke="#8a8a8a" stroke-width="0.9"/>
<line x1="45.3" y1="286.0" x2="47.3" y2="286.0" stroke="#8a8a8a" stroke-width="0.9"/>
<line x1="124.6" y1="343.4" x2="124.6" y2="345.4" stroke="#8a8a8a" stroke-width="0.9"/>
<line x1="45.3" y1="257.2" x2="47.3" y2="257.2" stroke="#8a8a8a" stroke-width="0.9"/>
<line x1="163.2" y1="343.4" x2="163.2" y2="345.4" stroke="#8a8a8a" stroke-width="0.9"/>
<line x1="45.3" y1="228.5" x2="47.3" y2="228.5" stroke="#8a8a8a" stroke-width="0.9"/>
<line x1="201.9" y1="343.4" x2="201.9" y2="345.4" stroke="#8a8a8a" stroke-width="0.9"/>
<line x1="45.3" y1="199.8" x2="47.3" y2="199.8" stroke="#8a8a8a" stroke-width="0.9"/>
<line x1="240.5" y1="343.4" x2="240.5" y2="345.4" stroke="#8a8a8a" stroke-width="0.9"/>
<g>
<polyline points="47.30,199.80 49.23,203.10 51.16,206.26 53.10,209.42 55.03,213.30 56.96,217.18 58.89,221.63 60.82,226.51 62.76,231.97 64.69,236.80 66.62,242.88 68.55,247.97 70.48,252.44 72.42,257.52 74.35,261.22 76.28,263.98 78.21,266.65 80.14,268.79 82.08,270.13 84.01,271.18 85.94,272.09 87.87,272.89 89.80,273.47 91.74,273.87 93.67,274.19 95.60,274.41 97.53,274.54 99.46,274.64 101.40,274.72 103.33,274.76 105.26,274.76 107.19,274.74 109.12,274.70 111.06,274.65 112.99,274.59 114.92,274.52 116.85,274.44 118.78,274.35 120.72,274.26 122.65,274.16 124.58,274.04 126.51,273.87 128.44,273.67 130.38,273.44 132.31,273.19 134.24,272.92 136.17,272.65 138.10,272.37 140.04,272.10 141.97,271.84 143.90,271.60 145.83,271.36 147.76,271.10 149.70,270.83 151.63,270.55 153.56,270.28 155.49,270.01 157.42,269.76 159.36,269.53 161.29,269.33 163.22,269.16 165.15,269.04 167.08,268.94 169.02,268.85 170.95,268.76 172.88,268.68 174.81,268.61 176.74,268.55 178.68,268.50 180.61,268.46 182.54,268.44 184.47,268.44 186.40,268.48 188.34,268.56 190.27,268.66 192.20,268.79 194.13,269.01 196.06,269.33 198.00,269.73 199.93,270.31 201.86,271.11 203.79,272.02 205.72,273.07 207.66,274.41 209.59,276.55 211.52,279.22 213.45,281.98 215.38,285.68 217.32,290.76 219.25,295.23 221.18,300.32 223.11,306.40 225.04,311.23 226.98,316.69 228.91,321.57 230.84,326.02 232.77,329.90 234.70,333.78 236.64,336.94 238.57,340.10 240.50,343.40" fill="none" stroke="#d4202a" stroke-width="1.3"/>
<circle cx="47.30" cy="199.80" r="2.0" fill="#d4202a"/>
<circle cx="49.23" cy="203.10" r="2.0" fill="#d4202a"/>
<circle cx="51.16" cy="206.26" r="2.0" fill="#d4202a"/>
<circle cx="53.10" cy="209.42" r="2.0" fill="#d4202a"/>
<circle cx="55.03" cy="213.30" r="2.0" fill="#d4202a"/>
<circle cx="56.96" cy="217.18" r="2.0" fill="#d4202a"/>
<circle cx="58.89" cy="221.63" r="2.0" fill="#d4202a"/>
<circle cx="60.82" cy="226.51" r="2.0" fill="#d4202a"/>
<circle cx="62.76" cy="231.97" r="2.0" fill="#d4202a"/>
<circle cx="64.69" cy="236.80" r="2.0" fill="#d4202a"/>
<circle cx="66.62" cy="242.88" r="2.0" fill="#d4202a"/>
<circle cx="68.55" cy="247.97" r="2.0" fill="#d4202a"/>
<circle cx="70.48" cy="252.44" r="2.0" fill="#d4202a"/>
<circle cx="72.42" cy="257.52" r="2.0" fill="#d4202a"/>
<circle cx="74.35" cy="261.22" r="2.0" fill="#d4202a"/>
<circle cx="76.28" cy="263.98" r="2.0" fill="#d4202a"/>
<circle cx="78.21" cy="266.65" r="2.0" fill="#d4202a"/>
<circle cx="80.14" cy="268.79" r="2.0" fill="#d4202a"/>
<circle cx="82.08" cy="270.13" r="2.0" fill="#d4202a"/>
<circle cx="84.01" cy="271.18" r="2.0" fill="#d4202a"/>
<circle cx="85.94" cy="272.09" r="2.0" fill="#d4202a"/>
<circle cx="87.87" cy="272.89" r="2.0" fill="#d4202a"/>
<circle cx="89.80" cy="273.47" r="2.0" fill="#d4202a"/>
<circle cx="91.74" cy="273.87" r="2.0" fill="#d4202a"/>
<circle cx="93.67" cy="274.19" r="2.0" fill="#d4202a"/>
<circle cx="95.60" cy="274.41" r="2.0" fill="#d4202a"/>
<circle cx="97.53" cy="274.54" r="2.0" fill="#d4202a"/>
<circle cx="99.46" cy="274.64" r="2.0" fill="#d4202a"/>
<circle cx="101.40" cy="274.72" r="2.0" fill="#d4202a"/>
<circle cx="103.33" cy="274.76" r="2.0" fill="#d4202a"/>
<circle cx="105.26" cy="274.76" r="2.0" fill="#d4202a"/>
<circle cx="107.19" cy="274.74" r="2.0" fill="#d4202a"/>
<circle cx="109.12" cy="274.70" r="2.0" fill="#d4202a"/>
<circle cx="111.06" cy="274.65" r="2.0" fill="#d4202a"/>
<circle cx="112.99" cy="274.59" r="2.0" fill="#d4202a"/>
<circle cx="114.92" cy="274.52" r="2.0" fill="#d4202a"/>
<circle cx="116.85" cy="274.44" r="2.0" fill="#d4202a"/>
<circle cx="118.78" cy="274.35" r="2.0" fill="#d4202a"/>
<circle cx="120.72" cy="274.26" r="2.0" fill="#d4202a"/>
<circle cx="122.65" cy="274.16" r="2.0" fill="#d4202a"/>
<circle cx="124.58" cy="274.04" r="2.0" fill="#d4202a"/>
<circle cx="126.51" cy="273.87" r="2.0" fill="#d4202a"/>
<circle cx="128.44" cy="273.67" r="2.0" fill="#d4202a"/>
<circle cx="130.38" cy="273.44" r="2.0" fill="#d4202a"/>
<circle cx="132.31" cy="273.19" r="2.0" fill="#d4202a"/>
<circle cx="134.24" cy="272.92" r="2.0" fill="#d4202a"/>
<circle cx="136.17" cy="272.65" r="2.0" fill="#d4202a"/>
<circle cx="138.10" cy="272.37" r="2.0" fill="#d4202a"/>
<circle cx="140.04" cy="272.10" r="2.0" fill="#d4202a"/>
<circle cx="141.97" cy="271.84" r="2.0" fill="#d4202a"/>
<circle cx="143.90" cy="271.60" r="2.0" fill="#d4202a"/>
<circle cx="145.83" cy="271.36" r="2.0" fill="#d4202a"/>
<circle cx="147.76" cy="271.10" r="2.0" fill="#d4202a"/>
<circle cx="149.70" cy="270.83" r="2.0" fill="#d4202a"/>
<circle cx="151.63" cy="270.55" r="2.0" fill="#d4202a"/>
<circle cx="153.56" cy="270.28" r="2.0" fill="#d4202a"/>
<circle cx="155.49" cy="270.01" r="2.0" fill="#d4202a"/>
<circle cx="157.42" cy="269.76" r="2.0" fill="#d4202a"/>
<circle cx="159.36" cy="269.53" r="2.0" fill="#d4202a"/>
<circle cx="161.29" cy="269.33" r="2.0" fill="#d4202a"/>
<circle cx="163.22" cy="269.16" r="2.0" fill="#d4202a"/>
<circle cx="165.15" cy="269.04" r="2.0" fill="#d4202a"/>
<circle cx="167.08" cy="268.94" r="2.0" fill="#d4202a"/>
<circle cx="169.02" cy="268.85" r="2.0" fill="#d4202a"/>
<circle cx="170.95" cy="268.76" r="2.0" fill="#d4202a"/>
<circle cx="172.88" cy="268.68" r="2.0" fill="#d4202a"/>
<circle cx="174.81" cy="268.61" r="2.0" fill="#d4202a"/>
<circle cx="176.74" cy="268.55" r="2.0" fill="#d4202a"/>
<circle cx="178.68" cy="268.50" r="2.0" fill="#d4202a"/>
<circle cx="180.61" cy="268.46" r="2.0" fill="#d4202a"/>
<circle cx="182.54" cy="268.44" r="2.0" fill="#d4202a"/>
<circle cx="184.47" cy="268.44" r="2.0" fill="#d4202a"/>
<circle cx="186.40" cy="268.48" r="2.0" fill="#d4202a"/>
<circle cx="188.34" cy="268.56" r="2.0" fill="#d4202a"/>
<circle cx="190.27" cy="268.66" r="2.0" fill="#d4202a"/>
<circle cx="192.20" cy="268.79" r="2.0" fill="#d4202a"/>
<circle cx="194.13" cy="269.01" r="2.0" fill="#d4202a"/>
<circle cx="196.06" cy="269.33" r="2.0" fill="#d4202a"/>
<circle cx="198.00" cy="269.73" r="2.0" fill="#d4202a"/>
<circle cx="199.93" cy="270.31" r="2.0" fill="#d4202a"/>
<circle cx="201.86" cy="271.11" r="2.0" fill="#d4202a"/>
<circle cx="203.79" cy="272.02" r="2.0" fill="#d4202a"/>
<circle cx="205.72" cy="273.07" r="2.0" fill="#d4202a"/>
<circle cx="207.66" cy="274.41" r="2.0" fill="#d4202a"/>
<circle cx="209.59" cy="276.55" r="2.0" fill="#d4202a"/>
<circle cx="211.52" cy="279.22" r="2.0" fill="#d4202a"/>
<circle cx="213.45" cy="281.98" r="2.0" fill="#d4202a"/>
<circle cx="215.38" cy="285.68" r="2.0" fill="#d4202a"/>
<circle cx="217.32" cy="290.76" r="2.0" fill="#d4202a"/>
<circle cx="219.25" cy="295.23" r="2.0" fill="#d4202a"/>
<circle cx="221.18" cy="300.32" r="2.0" fill="#d4202a"/>
<circle cx="223.11" cy="306.40" r="2.0" fill="#d4202a"/>
<circle cx="225.04" cy="311.23" r="2.0" fill="#d4202a"/>
<circle cx="226.98" cy="316.69" r="2.0" fill="#d4202a"/>
<circle cx="228.91" cy="321.57" r="2.0" fill="#d4202a"/>
<circle cx="230.84" cy="326.02" r="2.0" fill="#d4202a"/>
<circle cx="232.77" cy="329.90" r="2.0" fill="#d4202a"/>
<circle cx="234.70" cy="333.78" r="2.0" fill="#d4202a"/>
<circle cx="236.64" cy="336.94" r="2.0" fill="#d4202a"/>
<circle cx="238.57" cy="340.10" r="2.0" fill="#d4202a"/>
<circle cx="240.50" cy="343.40" r="2.0" fill="#d4202a"/>
<circle cx="47.30" cy="343.40" r="1.3" fill="#d4202a"/>
<circle cx="240.50" cy="199.80" r="1.3" fill="#d4202a"/>
</g>
<line x1="246.5" y1="199.8" x2="440.0" y2="199.8" stroke="#a8a8a8" stroke-width="1.4"/>
<line x1="246.5" y1="343.4" x2="440.0" y2="343.4" stroke="#a8a8a8" stroke-width="1.4"/>
<line x1="246.5" y1="199.8" x2="246.5" y2="343.4" stroke="#8a8a8a" stroke-width="1.2"/>
<line x1="440.0" y1="199.8" x2="440.0" y2="343.4" stroke="#8a8a8a" stroke-width="1.2"/>
<line x1="244.5" y1="343.4" x2="246.5" y2="343.4" stroke="#8a8a8a" stroke-width="0.9"/>
<line x1="246.5" y1="343.4" x2="246.5" y2="345.4" stroke="#8a8a8a" stroke-width="0.9"/>
<line x1="244.5" y1="314.7" x2="246.5" y2="314.7" stroke="#8a8a8a" stroke-width="0.9"/>
<line x1="285.2" y1="343.4" x2="285.2" y2="345.4" stroke="#8a8a8a" stroke-width="0.9"/>
<line x1="244.5" y1="286.0" x2="246.5" y2="286.0" stroke="#8a8a8a" stroke-width="0.9"/>
<line x1="323.9" y1="343.4" x2="323.9" y2="345.4" stroke="#8a8a8a" stroke-width="0.9"/>
<line x1="244.5" y1="257.2" x2="246.5" y2="257.2" stroke="#8a8a8a" stroke-width="0.9"/>
<line x1="362.6" y1="343.4" x2="362.6" y2="345.4" stroke="#8a8a8a" stroke-width="0.9"/>
<line x1="244.5" y1="228.5" x2="246.5" y2="228.5" stroke="#8a8a8a" stroke-width="0.9"/>
<line x1="401.3" y1="343.4" x2="401.3" y2="345.4" stroke="#8a8a8a" stroke-width="0.9"/>
<line x1="244.5" y1="199.8" x2="246.5" y2="199.8" stroke="#8a8a8a" stroke-width="0.9"/>
<line x1="440.0" y1="343.4" x2="440.0" y2="345.4" stroke="#8a8a8a" stroke-width="0.9"/>
<g>
<polyline points="246.50,271.46 248.44,271.81 250.37,272.16 252.31,272.53 254.24,272.90 256.18,273.27 258.11,273.65 260.05,274.04 261.98,274.43 263.92,274.82 265.85,275.22 267.79,275.61 269.72,276.00 271.65,276.40 273.59,276.80 275.52,277.22 277.46,277.65 279.39,278.11 281.33,278.59 283.26,279.10 285.20,279.66 287.13,280.29 289.07,280.99 291.00,281.76 292.94,282.63 294.88,283.60 296.81,284.71 298.75,286.02 300.68,287.60 302.62,289.41 304.55,291.57 306.49,294.07 308.42,296.78 310.36,299.75 312.29,303.11 314.23,307.05 316.16,311.09 318.10,315.01 320.03,318.77 321.97,322.06 323.90,325.06 325.84,327.70 327.77,329.97 329.70,332.00 331.64,333.84 333.57,335.52 335.51,336.93 337.44,338.15 339.38,339.38 341.31,340.82 343.25,342.83" fill="none" stroke="#d4202a" stroke-width="1.3"/>
<circle cx="246.50" cy="271.46" r="2.0" fill="#d4202a"/>
<circle cx="248.44" cy="271.81" r="2.0" fill="#d4202a"/>
<circle cx="250.37" cy="272.16" r="2.0" fill="#d4202a"/>
<circle cx="252.31" cy="272.53" r="2.0" fill="#d4202a"/>
<circle cx="254.24" cy="272.90" r="2.0" fill="#d4202a"/>
<circle cx="256.18" cy="273.27" r="2.0" fill="#d4202a"/>
<circle cx="258.11" cy="273.65" r="2.0" fill="#d4202a"/>
<circle cx="260.05" cy="274.04" r="2.0" fill="#d4202a"/>
<circle cx="261.98" cy="274.43" r="2.0" fill="#d4202a"/>
<circle cx="263.92" cy="274.82" r="2.0" fill="#d4202a"/>
<circle cx="265.85" cy="275.22" r="2.0" fill="#d4202a"/>
<circle cx="267.79" cy="275.61" r="2.0" fill="#d4202a"/>
<circle cx="269.72" cy="276.00" r="2.0" fill="#d4202a"/>
<circle cx="271.65" cy="276.40" r="2.0" fill="#d4202a"/>
<circle cx="273.59" cy="276.80" r="2.0" fill="#d4202a"/>
<circle cx="275.52" cy="277.22" r="2.0" fill="#d4202a"/>
<circle cx="277.46" cy="277.65" r="2.0" fill="#d4202a"/>
<circle cx="279.39" cy="278.11" r="2.0" fill="#d4202a"/>
<circle cx="281.33" cy="278.59" r="2.0" fill="#d4202a"/>
<circle cx="283.26" cy="279.10" r="2.0" fill="#d4202a"/>
<circle cx="285.20" cy="279.66" r="2.0" fill="#d4202a"/>
<circle cx="287.13" cy="280.29" r="2.0" fill="#d4202a"/>
<circle cx="289.07" cy="280.99" r="2.0" fill="#d4202a"/>
<circle cx="291.00" cy="281.76" r="2.0" fill="#d4202a"/>
<circle cx="292.94" cy="282.63" r="2.0" fill="#d4202a"/>
<circle cx="294.88" cy="283.60" r="2.0" fill="#d4202a"/>
<circle cx="296.81" cy="284.71" r="2.0" fill="#d4202a"/>
<circle cx="298.75" cy="286.02" r="2.0" fill="#d4202a"/>
<circle cx="300.68" cy="287.60" r="2.0" fill="#d4202a"/>
<circle cx="302.62" cy="289.41" r="2.0" fill="#d4202a"/>
<circle cx="304.55" cy="291.57" r="2.0" fill="#d4202a"/>
<circle cx="306.49" cy="294.07" r="2.0" fill="#d4202a"/>
<circle cx="308.42" cy="296.78" r="2.0" fill="#d4202a"/>
<circle cx="310.36" cy="299.75" r="2.0" fill="#d4202a"/>
<circle cx="312.29" cy="303.11" r="2.0" fill="#d4202a"/>
<circle cx="314.23" cy="307.05" r="2.0" fill="#d4202a"/>
<circle cx="316.16" cy="311.09" r="2.0" fill="#d4202a"/>
<circle cx="318.10" cy="315.01" r="2.0" fill="#d4202a"/>
<circle cx="320.03" cy="318.77" r="2.0" fill="#d4202a"/>
<circle cx="321.97" cy="322.06" r="2.0" fill="#d4202a"/>
<circle cx="323.90" cy="325.06" r="2.0" fill="#d4202a"/>
<circle cx="325.84" cy="327.70" r="2.0" fill="#d4202a"/>
<circle cx="327.77" cy="329.97" r="2.0" fill="#d4202a"/>
<circle cx="329.70" cy="332.00" r="2.0" fill="#d4202a"/>
<circle cx="331.64" cy="333.84" r="2.0" fill="#d4202a"/>
<circle cx="333.57" cy="335.52" r="2.0" fill="#d4202a"/>
<circle cx="335.51" cy="336.93" r="2.0" fill="#d4202a"/>
<circle cx="337.44" cy="338.15" r="2.0" fill="#d4202a"/>
<circle cx="339.38" cy="339.38" r="2.0" fill="#d4202a"/>
<circle cx="341.31" cy="340.82" r="2.0" fill="#d4202a"/>
<circle cx="343.25" cy="342.83" r="2.0" fill="#d4202a"/>
<polyline points="343.25,200.37 345.19,202.38 347.12,203.82 349.06,205.05 350.99,206.27 352.93,207.68 354.86,209.36 356.80,211.20 358.73,213.23 360.66,215.50 362.60,218.14 364.53,221.14 366.47,224.43 368.40,228.19 370.34,232.11 372.27,236.15 374.21,240.09 376.14,243.45 378.08,246.42 380.01,249.13 381.95,251.63 383.88,253.79 385.82,255.60 387.75,257.18 389.69,258.49 391.62,259.60 393.56,260.57 395.50,261.44 397.43,262.21 399.37,262.91 401.30,263.54 403.24,264.10 405.17,264.61 407.11,265.09 409.04,265.55 410.98,265.98 412.91,266.40 414.85,266.80 416.78,267.20 418.72,267.59 420.65,267.98 422.59,268.38 424.52,268.77 426.46,269.16 428.39,269.55 430.33,269.93 432.26,270.30 434.19,270.67 436.13,271.04 438.06,271.39 440.00,271.74" fill="none" stroke="#d4202a" stroke-width="1.3"/>
<circle cx="343.25" cy="200.37" r="2.0" fill="#d4202a"/>
<circle cx="345.19" cy="202.38" r="2.0" fill="#d4202a"/>
<circle cx="347.12" cy="203.82" r="2.0" fill="#d4202a"/>
<circle cx="349.06" cy="205.05" r="2.0" fill="#d4202a"/>
<circle cx="350.99" cy="206.27" r="2.0" fill="#d4202a"/>
<circle cx="352.93" cy="207.68" r="2.0" fill="#d4202a"/>
<circle cx="354.86" cy="209.36" r="2.0" fill="#d4202a"/>
<circle cx="356.80" cy="211.20" r="2.0" fill="#d4202a"/>
<circle cx="358.73" cy="213.23" r="2.0" fill="#d4202a"/>
<circle cx="360.66" cy="215.50" r="2.0" fill="#d4202a"/>
<circle cx="362.60" cy="218.14" r="2.0" fill="#d4202a"/>
<circle cx="364.53" cy="221.14" r="2.0" fill="#d4202a"/>
<circle cx="366.47" cy="224.43" r="2.0" fill="#d4202a"/>
<circle cx="368.40" cy="228.19" r="2.0" fill="#d4202a"/>
<circle cx="370.34" cy="232.11" r="2.0" fill="#d4202a"/>
<circle cx="372.27" cy="236.15" r="2.0" fill="#d4202a"/>
<circle cx="374.21" cy="240.09" r="2.0" fill="#d4202a"/>
<circle cx="376.14" cy="243.45" r="2.0" fill="#d4202a"/>
<circle cx="378.08" cy="246.42" r="2.0" fill="#d4202a"/>
<circle cx="380.01" cy="249.13" r="2.0" fill="#d4202a"/>
<circle cx="381.95" cy="251.63" r="2.0" fill="#d4202a"/>
<circle cx="383.88" cy="253.79" r="2.0" fill="#d4202a"/>
<circle cx="385.82" cy="255.60" r="2.0" fill="#d4202a"/>
<circle cx="387.75" cy="257.18" r="2.0" fill="#d4202a"/>
<circle cx="389.69" cy="258.49" r="2.0" fill="#d4202a"/>
<circle cx="391.62" cy="259.60" r="2.0" fill="#d4202a"/>
<circle cx="393.56" cy="260.57" r="2.0" fill="#d4202a"/>
<circle cx="395.50" cy="261.44" r="2.0" fill="#d4202a"/>
<circle cx="397.43" cy="262.21" r="2.0" fill="#d4202a"/>
<circle cx="399.37" cy="262.91" r="2.0" fill="#d4202a"/>
<circle cx="401.30" cy="263.54" r="2.0" fill="#d4202a"/>
<circle cx="403.24" cy="264.10" r="2.0" fill="#d4202a"/>
<circle cx="405.17" cy="264.61" r="2.0" fill="#d4202a"/>
<circle cx="407.11" cy="265.09" r="2.0" fill="#d4202a"/>
<circle cx="409.04" cy="265.55" r="2.0" fill="#d4202a"/>
<circle cx="410.98" cy="265.98" r="2.0" fill="#d4202a"/>
<circle cx="412.91" cy="266.40" r="2.0" fill="#d4202a"/>
<circle cx="414.85" cy="266.80" r="2.0" fill="#d4202a"/>
<circle cx="416.78" cy="267.20" r="2.0" fill="#d4202a"/>
<circle cx="418.72" cy="267.59" r="2.0" fill="#d4202a"/>
<circle cx="420.65" cy="267.98" r="2.0" fill="#d4202a"/>
<circle cx="422.59" cy="268.38" r="2.0" fill="#d4202a"/>
<circle cx="424.52" cy="268.77" r="2.0" fill="#d4202a"/>
<circle cx="426.46" cy="269.16" r="2.0" fill="#d4202a"/>
<circle cx="428.39" cy="269.55" r="2.0" fill="#d4202a"/>
<circle cx="430.33" cy="269.93" r="2.0" fill="#d4202a"/>
<circle cx="432.26" cy="270.30" r="2.0" fill="#d4202a"/>
<circle cx="434.19" cy="270.67" r="2.0" fill="#d4202a"/>
<circle cx="436.13" cy="271.04" r="2.0" fill="#d4202a"/>
<circle cx="438.06" cy="271.39" r="2.0" fill="#d4202a"/>
<circle cx="440.00" cy="271.74" r="2.0" fill="#d4202a"/>
</g>
<line x1="448.5" y1="199.8" x2="642.3" y2="199.8" stroke="#a8a8a8" stroke-width="1.4"/>
<line x1="448.5" y1="343.4" x2="642.3" y2="343.4" stroke="#a8a8a8" stroke-width="1.4"/>
<line x1="448.5" y1="199.8" x2="448.5" y2="343.4" stroke="#8a8a8a" stroke-width="1.2"/>
<line x1="642.3" y1="199.8" x2="642.3" y2="343.4" stroke="#8a8a8a" stroke-width="1.2"/>
<line x1="446.5" y1="343.4" x2="448.5" y2="343.4" stroke="#8a8a8a" stroke-width="0.9"/>
<line x1="448.5" y1="343.4" x2="448.5" y2="345.4" stroke="#8a8a8a" stroke-width="0.9"/>
<line x1="446.5" y1="314.7" x2="448.5" y2="314.7" stroke="#8a8a8a" stroke-width="0.9"/>
<line x1="487.3" y1="343.4" x2="487.3" y2="345.4" stroke="#8a8a8a" stroke-width="0.9"/>
<line x1="446.5" y1="286.0" x2="448.5" y2="286.0" stroke="#8a8a8a" stroke-width="0.9"/>
<line x1="526.0" y1="343.4" x2="526.0" y2="345.4" stroke="#8a8a8a" stroke-width="0.9"/>
<line x1="446.5" y1="257.2" x2="448.5" y2="257.2" stroke="#8a8a8a" stroke-width="0.9"/>
<line x1="564.8" y1="343.4" x2="564.8" y2="345.4" stroke="#8a8a8a" stroke-width="0.9"/>
<line x1="446.5" y1="228.5" x2="448.5" y2="228.5" stroke="#8a8a8a" stroke-width="0.9"/>
<line x1="603.5" y1="343.4" x2="603.5" y2="345.4" stroke="#8a8a8a" stroke-width="0.9"/>
<line x1="446.5" y1="199.8" x2="448.5" y2="199.8" stroke="#8a8a8a" stroke-width="0.9"/>
<line x1="642.3" y1="343.4" x2="642.3" y2="345.4" stroke="#8a8a8a" stroke-width="0.9"/>
<g>
<polyline points="448.50,199.80 452.38,203.68 456.25,208.85 460.13,217.03 464.00,232.54 467.88,252.07 471.76,265.71 475.63,271.46 479.51,274.90 483.38,276.05 487.26,276.91 491.14,277.63 495.01,278.35 498.89,279.93 502.76,282.66 506.64,288.83 510.52,297.30 514.39,307.07 518.27,317.84 522.14,325.45 526.02,330.91 529.90,335.21 533.77,338.66 537.65,340.96 541.52,343.26 545.40,343.40" fill="none" stroke="#d4202a" stroke-width="0.9"/>
<circle cx="448.50" cy="199.80" r="1.0" fill="#d4202a"/>
<circle cx="452.38" cy="203.68" r="2.0" fill="#d4202a"/>
<circle cx="456.25" cy="208.85" r="2.0" fill="#d4202a"/>
<circle cx="460.13" cy="217.03" r="2.0" fill="#d4202a"/>
<circle cx="464.00" cy="232.54" r="2.0" fill="#d4202a"/>
<circle cx="467.88" cy="252.07" r="2.0" fill="#d4202a"/>
<circle cx="471.76" cy="265.71" r="2.0" fill="#d4202a"/>
<circle cx="475.63" cy="271.46" r="2.0" fill="#d4202a"/>
<circle cx="479.51" cy="274.90" r="2.0" fill="#d4202a"/>
<circle cx="483.38" cy="276.05" r="2.0" fill="#d4202a"/>
<circle cx="487.26" cy="276.91" r="2.0" fill="#d4202a"/>
<circle cx="491.14" cy="277.63" r="2.0" fill="#d4202a"/>
<circle cx="495.01" cy="278.35" r="2.0" fill="#d4202a"/>
<circle cx="498.89" cy="279.93" r="2.0" fill="#d4202a"/>
<circle cx="502.76" cy="282.66" r="2.0" fill="#d4202a"/>
<circle cx="506.64" cy="288.83" r="2.0" fill="#d4202a"/>
<circle cx="510.52" cy="297.30" r="2.0" fill="#d4202a"/>
<circle cx="514.39" cy="307.07" r="2.0" fill="#d4202a"/>
<circle cx="518.27" cy="317.84" r="2.0" fill="#d4202a"/>
<circle cx="522.14" cy="325.45" r="2.0" fill="#d4202a"/>
<circle cx="526.02" cy="330.91" r="2.0" fill="#d4202a"/>
<circle cx="529.90" cy="335.21" r="2.0" fill="#d4202a"/>
<circle cx="533.77" cy="338.66" r="2.0" fill="#d4202a"/>
<circle cx="537.65" cy="340.96" r="2.0" fill="#d4202a"/>
<circle cx="541.52" cy="343.26" r="2.0" fill="#d4202a"/>
<circle cx="545.40" cy="343.40" r="2.0" fill="#d4202a"/>
<polyline points="642.30,343.40 638.42,339.52 634.55,334.35 630.67,326.17 626.80,310.66 622.92,291.13 619.04,277.49 615.17,271.74 611.29,268.30 607.42,267.15 603.54,266.29 599.66,265.57 595.79,264.85 591.91,263.27 588.04,260.54 584.16,254.37 580.28,245.90 576.41,236.13 572.53,225.36 568.66,217.75 564.78,212.29 560.90,207.99 557.03,204.54 553.15,202.24 549.28,199.94 545.40,199.80" fill="none" stroke="#d4202a" stroke-width="0.9"/>
<circle cx="642.30" cy="343.40" r="1.0" fill="#d4202a"/>
<circle cx="638.42" cy="339.52" r="2.0" fill="#d4202a"/>
<circle cx="634.55" cy="334.35" r="2.0" fill="#d4202a"/>
<circle cx="630.67" cy="326.17" r="2.0" fill="#d4202a"/>
<circle cx="626.80" cy="310.66" r="2.0" fill="#d4202a"/>
<circle cx="622.92" cy="291.13" r="2.0" fill="#d4202a"/>
<circle cx="619.04" cy="277.49" r="2.0" fill="#d4202a"/>
<circle cx="615.17" cy="271.74" r="2.0" fill="#d4202a"/>
<circle cx="611.29" cy="268.30" r="2.0" fill="#d4202a"/>
<circle cx="607.42" cy="267.15" r="2.0" fill="#d4202a"/>
<circle cx="603.54" cy="266.29" r="2.0" fill="#d4202a"/>
<circle cx="599.66" cy="265.57" r="2.0" fill="#d4202a"/>
<circle cx="595.79" cy="264.85" r="2.0" fill="#d4202a"/>
<circle cx="591.91" cy="263.27" r="2.0" fill="#d4202a"/>
<circle cx="588.04" cy="260.54" r="2.0" fill="#d4202a"/>
<circle cx="584.16" cy="254.37" r="2.0" fill="#d4202a"/>
<circle cx="580.28" cy="245.90" r="2.0" fill="#d4202a"/>
<circle cx="576.41" cy="236.13" r="2.0" fill="#d4202a"/>
<circle cx="572.53" cy="225.36" r="2.0" fill="#d4202a"/>
<circle cx="568.66" cy="217.75" r="2.0" fill="#d4202a"/>
<circle cx="564.78" cy="212.29" r="2.0" fill="#d4202a"/>
<circle cx="560.90" cy="207.99" r="2.0" fill="#d4202a"/>
<circle cx="557.03" cy="204.54" r="2.0" fill="#d4202a"/>
<circle cx="553.15" cy="202.24" r="2.0" fill="#d4202a"/>
<circle cx="549.28" cy="199.94" r="2.0" fill="#d4202a"/>
<circle cx="545.40" cy="199.80" r="2.0" fill="#d4202a"/>
<circle cx="448.50" cy="343.40" r="1.3" fill="#d4202a"/>
<circle cx="642.30" cy="199.80" r="1.3" fill="#d4202a"/>
</g>
<g font-family='"Liberation Sans", sans-serif' font-size="13" fill="#222">
<text x="44.2" y="347.9" text-anchor="end">0.0</text>
<text x="44.2" y="319.2" text-anchor="end">0.2</text>
<text x="44.2" y="290.5" text-anchor="end">0.4</text>
<text x="44.2" y="261.7" text-anchor="end">0.6</text>
<text x="44.2" y="233.0" text-anchor="end">0.8</text>
<text x="44.2" y="204.3" text-anchor="end">1.0</text>
<text x="47.3" y="359.2" text-anchor="middle">0.0</text>
<text x="85.9" y="359.2" text-anchor="middle">0.2</text>
<text x="124.6" y="359.2" text-anchor="middle">0.4</text>
<text x="163.2" y="359.2" text-anchor="middle">0.6</text>
<text x="201.9" y="359.2" text-anchor="middle">0.8</text>
<text x="240.5" y="359.2" text-anchor="middle">1.0</text>
<text x="285.2" y="359.2" text-anchor="middle">0.2</text>
<text x="323.9" y="359.2" text-anchor="middle">0.4</text>
<text x="362.6" y="359.2" text-anchor="middle">0.6</text>
<text x="401.3" y="359.2" text-anchor="middle">0.8</text>
<text x="440.0" y="359.2" text-anchor="middle">1.0</text>
<text x="487.3" y="359.2" text-anchor="middle">0.2</text>
<text x="526.0" y="359.2" text-anchor="middle">0.4</text>
<text x="564.8" y="359.2" text-anchor="middle">0.6</text>
<text x="603.5" y="359.2" text-anchor="middle">0.8</text>
<text x="645.2" y="359.2" text-anchor="end">1.0</text>
</g>
<text transform="translate(12.2,275.5) rotate(-90)" font-family='"Liberation Serif", serif' font-size="15.6" fill="#222" text-anchor="middle">Sum of HWCCs (2<tspan font-style="italic">π</tspan>)</text>
<g font-family='"Liberation Serif", serif' font-size="17.5" fill="#222"><text x="312.2" y="382.8" font-style="italic">k</text><text x="327.6" y="382.8">(</text><text x="334.6" y="382.8">2</text><text x="343.0" y="382.8" font-style="italic">π</text><text x="352.0" y="382.8">/</text><text x="359.4" y="382.8" font-style="italic">a</text><text x="368.6" y="382.8">)</text></g>
</svg></body></html>
